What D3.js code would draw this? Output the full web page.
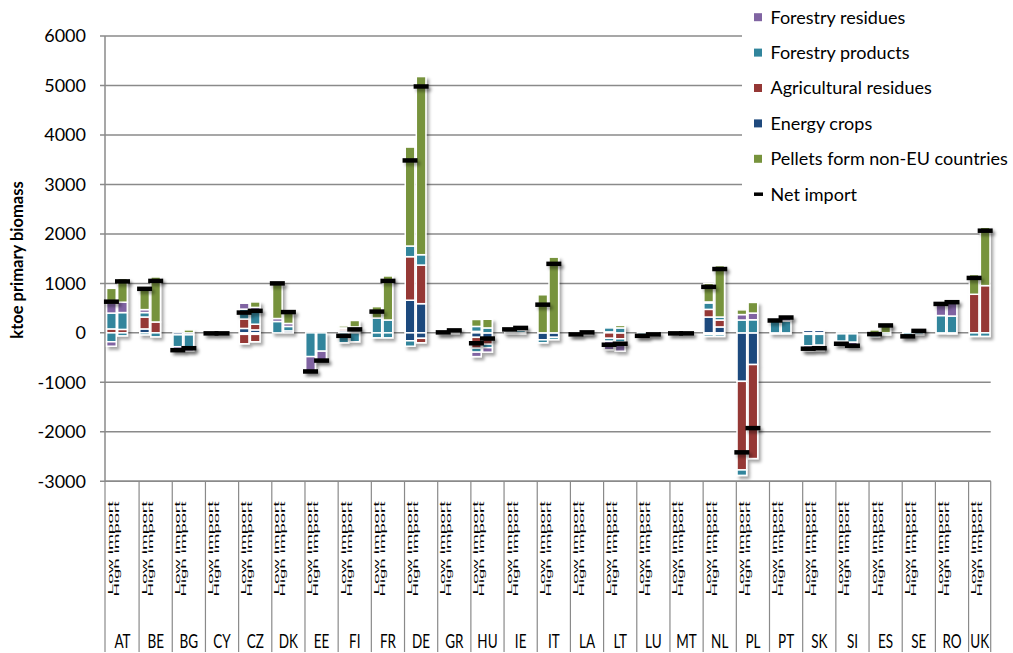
<!DOCTYPE html>
<html>
<head>
<meta charset="utf-8">
<script src="https://cdn.jsdelivr.net/npm/d3@7"></script>
<style>
  body { margin: 0; background: #fff; }
  svg { display: block; font-family: Lato, "Liberation Sans", sans-serif; }
</style>
</head>
<body>
<svg id="chart" width="1013" height="653"></svg>
<script>
// Member states, each with a low-import and a high-import scenario bar
const countries = ["AT","BE","BG","CY","CZ","DK","EE","FI","FR","DE","GR","HU","IE","IT",
                   "LA","LT","LU","MT","NL","PL","PT","SK","SI","ES","SE","RO","UK"];
const scenarios = ["Low import", "High import"];
const yTicks = [-3000, -2000, -1000, 0, 1000, 2000, 3000, 4000, 5000, 6000];

// ktoe per bar, pairs per country: [Low, High], in the country order above.
// Imports (positive)
const energyImp = [0,0, 80,0, 0,0, 0,0, 90,60, 0,40, 0,0, 40,40, 0,0, 660,590, 30,0, 30,0, 0,0, 0,0,
                   0,0, 20,0, 0,0, 0,0, 320,120, 0,0, 0,0, 50,50, 0,0, 0,0, 0,40, 0,0, 0,0];
const agriImp   = [80,70, 240,220, 0,0, 0,0, 190,115, 0,0, 0,0, 40,40, 0,0, 880,780, 0,0, 0,0, 20,0, 0,0,
                   0,0, 0,0, 0,0, 0,0, 155,140, 0,0, 0,0, 0,0, 0,0, 0,0, 10,40, 0,0, 780,955];
const prodImp   = [320,340, 90,0, 0,0, 0,0, 200,260, 230,90, 0,0, 20,0, 300,260, 215,210, 0,70, 100,100, 70,50, 0,0,
                   20,40, 80,100, 20,20, 0,0, 130,60, 260,265, 270,240, 0,0, 0,0, 0,0, 0,0, 350,340, 0,0];
const resImp    = [200,210, 60,0, 0,0, 0,0, 120,80, 60,60, 0,0, 0,40, 0,0, 0,0, 0,0, 0,0, 0,0, 0,0,
                   0,0, 0,0, 0,0, 0,0, 20,0, 110,135, 0,90, 0,0, 0,0, 0,0, 0,0, 250,300, 0,0];
const pellets   = [300,480, 460,910, 0,60, 0,0, 30,110, 710,230, 0,0, 40,130, 230,890, 2000,3600, 0,0, 140,175, 0,70, 770,1530,
                   0,0, 0,50, 0,0, 0,0, 375,1040, 95,215, 0,0, 0,0, 0,0, 60,190, 0,0, 0,0, 400,1180];
// Exports (negative)
const energyExp = [0,0, 0,0, -40,-40, 0,0, -30,-30, 0,0, 0,0, 0,0, 0,0, -160,-110, 0,0, -90,-120, 0,0, -140,-90,
                   0,-30, 0,0, 0,0, 0,0, -30,-30, -980,-640, -20,-20, -30,-30, -20,-20, -40,0, 0,0, -15,-20, 0,0];
const agriExp   = [0,0, 0,0, 0,0, 0,0, -190,-150, 0,0, 0,0, 0,0, 0,0, 0,-90, 0,0, -220,-110, 0,0, 0,0,
                   0,0, -110,-120, 0,0, 0,0, 0,0, -1790,-1900, 0,0, 0,0, 0,0, 0,0, 0,0, 0,0, 0,0];
const prodExp   = [-180,-60, -40,-80, -240,-250, -10,-10, 0,0, 0,0, -480,-370, -200,-180, -100,-100, -110,0, -20,-20, -80,-70, -20,-20, -60,-45,
                   -50,0, -60,-70, -80,-50, -10,-10, -40,-40, -110,0, 0,0, -230,-220, -150,-170, -45,-40, -80,-40, 0,0, -70,-70];
const resExp    = [-90,0, 0,0, -70,-80, 0,0, 0,0, 0,0, -300,-190, 0,0, 0,0, 0,0, 0,0, -90,-90, 0,0, 0,0,
                   0,0, -170,-180, 0,0, 0,0, 0,0, 0,0, 0,0, -110,-110, -50,-70, 0,0, 0,0, 0,0, 0,0];
// Net import marker
const netImport = [630,1040, 890,1050, -350,-310, -10,-10, 410,445, 1000,420, -780,-560, -60,70, 430,1050, 3485,4980,
                   10,50, -210,-115, 70,100, 570,1395, -30,10, -240,-220, -60,-30, -10,-10, 930,1290, -2415,-1925,
                   250,310, -320,-310, -220,-260, -25,150, -70,40, 585,620, 1110,2065];

const legendNames = ["Forestry residues", "Forestry products", "Agricultural residues",
                     "Energy crops", "Pellets form non-EU countries"];
const legendColors = ["#8064A2", "#31859C", "#953735", "#1F497D", "#77933C"];

// stack keys: each biomass type stacks upward for imports and downward for exports
const keys = ["energyImp","energyExp","agriImp","agriExp","prodImp","prodExp","resImp","resExp","pellets"];
const keyColor = {
  energyImp: "#1F497D", energyExp: "#1F497D",
  agriImp: "#953735", agriExp: "#953735",
  prodImp: "#31859C", prodExp: "#31859C",
  resImp: "#8064A2", resExp: "#8064A2",
  pellets: "#77933C"
};
const source = { energyImp, energyExp, agriImp, agriExp, prodImp, prodExp, resImp, resExp, pellets };

// category slots: Low, High and an empty spacer per country (no spacer after the last)
const slots = [];
countries.forEach((c, i) => {
  slots.push(c + "|" + scenarios[0], c + "|" + scenarios[1]);
  if (i < countries.length - 1) slots.push(c + "|gap");
});

const rows = [];
countries.forEach((c, i) => {
  scenarios.forEach((s, j) => {
    const k = 2 * i + j;
    const r = { slot: c + "|" + s, country: c, scenario: s, net: netImport[k] };
    keys.forEach(key => r[key] = source[key][k]);
    rows.push(r);
  });
});

const svg = d3.select("#chart");
const plotLeft = 105.9, plotRight = 990.7;
const axisX = 105;

const x = d3.scaleBand().domain(slots).range([plotLeft, plotRight])
  .paddingInner(0.13).paddingOuter(0.065);
const y = d3.scaleLinear().domain([-3000, 6000]).range([481.3, 36]);

const defs = svg.append("defs");
defs.append("filter").attr("id", "shadow")
  .attr("x", "-50%").attr("y", "-50%").attr("width", "200%").attr("height", "200%")
  .append("feDropShadow")
  .attr("dx", 2.5).attr("dy", 3).attr("stdDeviation", 1.8)
  .attr("flood-color", "#000").attr("flood-opacity", 0.35);

const gridColor = "#8a8a8a";

// horizontal gridlines with short ticks left of the axis
svg.append("g").selectAll("line").data(yTicks).join("line")
  .attr("x1", axisX - 5).attr("x2", plotRight)
  .attr("y1", d => y(d)).attr("y2", d => y(d))
  .attr("stroke", gridColor).attr("stroke-width", 1.5);

// vertical value axis
svg.append("line")
  .attr("x1", axisX).attr("x2", axisX)
  .attr("y1", y(6000)).attr("y2", y(-3000))
  .attr("stroke", gridColor).attr("stroke-width", 1.5);

// tick labels
svg.append("g").selectAll("text").data(yTicks).join("text")
  .attr("x", 86).attr("y", d => y(d)).attr("dy", "0.36em")
  .attr("text-anchor", "end").attr("font-size", 18).attr("fill", "#000")
  .text(d => d);

// axis title
svg.append("text")
  .attr("transform", "translate(23,260) rotate(-90)")
  .attr("text-anchor", "middle").attr("font-size", 16.5).attr("font-weight", "bold")
  .attr("fill", "#000")
  .text("ktoe primary biomass");

// stacked bars
const stacked = d3.stack().keys(keys).offset(d3.stackOffsetDiverging)(rows);
const barsG = svg.append("g").attr("filter", "url(#shadow)");
stacked.forEach(layer => {
  barsG.append("g").selectAll("rect")
    .data(layer.filter(d => d[1] !== d[0]))
    .join("rect")
    .attr("x", d => x(d.data.slot))
    .attr("width", x.bandwidth())
    .attr("y", d => y(Math.max(d[0], d[1])))
    .attr("height", d => Math.abs(y(d[0]) - y(d[1])))
    .attr("fill", keyColor[layer.key])
    .attr("stroke", "#fff").attr("stroke-width", 1.5);
});

// net import markers
svg.append("g").attr("filter", "url(#shadow)")
  .selectAll("rect").data(rows).join("rect")
  .attr("x", d => x(d.slot) + x.bandwidth() / 2 - 7.5)
  .attr("width", 15)
  .attr("y", d => y(d.net) - 2.25)
  .attr("height", 4.5)
  .attr("fill", "#000");

// category axis: baseline, country separators and labels
const step = x.step();
const sepX = countries.map(c => x(c + "|" + scenarios[0]) - step * x.paddingInner() / 2);
sepX.push(plotRight);

svg.append("line")
  .attr("x1", axisX).attr("x2", plotRight)
  .attr("y1", y(-3000)).attr("y2", y(-3000))
  .attr("stroke", gridColor).attr("stroke-width", 1.5);

svg.append("g").selectAll("line").data(sepX).join("line")
  .attr("x1", (d, i) => i === 0 ? axisX : d).attr("x2", (d, i) => i === 0 ? axisX : d)
  .attr("y1", y(-3000)).attr("y2", 652)
  .attr("stroke", gridColor).attr("stroke-width", 1.2);

const catG = svg.append("g");
countries.forEach((c, i) => {
  const left = sepX[i];
  const cx = (sepX[i] + sepX[i + 1]) / 2;
  catG.append("text")
    .attr("transform", `translate(${cx},648) scale(1,1.4)`)
    .attr("text-anchor", "middle").attr("font-size", 13.5).attr("fill", "#000")
    .text(c);
  [[scenarios[0], 7.5, 93], [scenarios[1], 13.5, 95]].forEach(([s, off, len]) => {
    catG.append("text")
      .attr("transform", `translate(${left + off},501.5) rotate(-90)`)
      .attr("text-anchor", "end").attr("font-size", 7.5)
      .attr("font-family", "'Liberation Sans', sans-serif").attr("fill", "#000")
      .attr("textLength", len).attr("lengthAdjust", "spacingAndGlyphs")
      .text(s);
  });
});

// legend
const legG = svg.append("g");
legG.append("rect").attr("x", 742).attr("y", 0).attr("width", 271).attr("height", 212).attr("fill", "#fff");
legendNames.forEach((name, i) => {
  const cy = 17.2 + 35.4 * i;
  legG.append("rect").attr("x", 754).attr("y", cy - 4).attr("width", 8).attr("height", 8)
    .attr("fill", legendColors[i]);
  legG.append("text").attr("x", 770.5).attr("y", cy).attr("dy", "0.36em")
    .attr("font-size", 18).attr("fill", "#000").text(name);
});
{
  const cy = 17.2 + 35.4 * 5;
  legG.append("rect").attr("x", 754).attr("y", cy - 1.75).attr("width", 9).attr("height", 3.5).attr("fill", "#000");
  legG.append("text").attr("x", 770.5).attr("y", cy).attr("dy", "0.36em")
    .attr("font-size", 18).attr("fill", "#000").text("Net import");
}
</script>
</body>
</html>
